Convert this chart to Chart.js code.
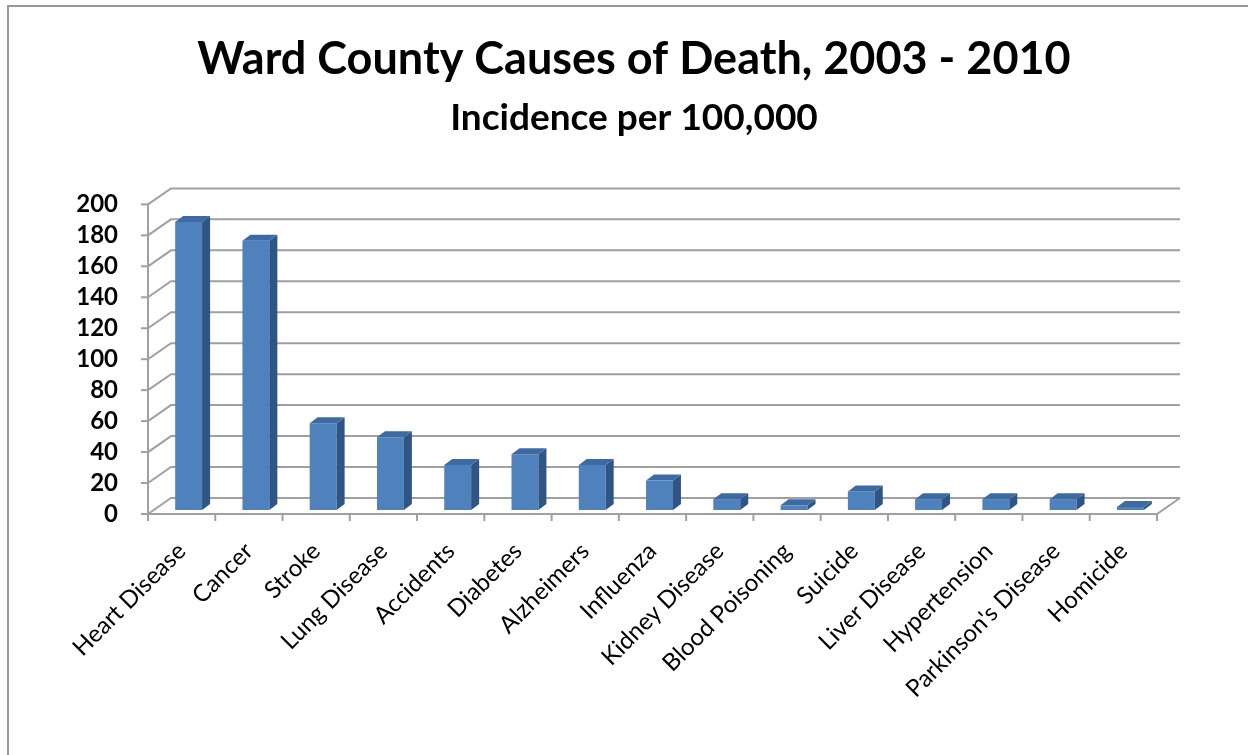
<!DOCTYPE html>
<html>
<head>
<meta charset="utf-8">
<title>Ward County Causes of Death</title>
<script src="https://cdn.jsdelivr.net/npm/chart.js@4.4.0/dist/chart.umd.min.js"></script>
<style>
  html, body { margin: 0; padding: 0; background: #fff; }
  #wrap { width: 1248px; height: 755px; position: relative; }
</style>
</head>
<body>
<div id="wrap"><canvas id="chart"></canvas></div>
<script>
// Chart data
const causes = [
  'Heart Disease', 'Cancer', 'Stroke', 'Lung Disease', 'Accidents',
  'Diabetes', 'Alzheimers', 'Influenza', 'Kidney Disease', 'Blood Poisoning',
  'Suicide', 'Liver Disease', 'Hypertension', "Parkinson's Disease", 'Homicide'
];
const incidence = [186, 174, 56, 47, 29, 36, 29, 19, 7, 3, 12, 7, 7, 7, 2];
const yTicks = { min: 0, max: 200, step: 20 };

// 3D look (pixel offsets)
const WALL = { dx: 23, dy: -16 };     // back wall vs front axis
const SHIFT = { dx: 7, dy: -4 };      // bar front face vs front axis
const BAR_DEPTH = { dx: 8, dy: -6 };  // bar side / top depth
const GRID_COLOR = '#a0a0a0';

// Draws walls, floor and the extra bar faces
const fake3d = {
  id: 'fake3d',
  beforeDraw(chart) {
    const ctx = chart.ctx;
    ctx.save();
    ctx.strokeStyle = '#999';
    ctx.lineWidth = 2;
    ctx.strokeRect(8, 6, 1400, 900);
    ctx.restore();
  },
  beforeDatasetsDraw(chart) {
    const { ctx, chartArea: a, scales: { x, y } } = chart;
    ctx.save();
    ctx.strokeStyle = GRID_COLOR;
    ctx.lineWidth = 2;
    // back wall gridlines plus left wall diagonals
    y.ticks.forEach(t => {
      const py = y.getPixelForValue(t.value);
      ctx.beginPath();
      ctx.moveTo(a.left, py);
      ctx.lineTo(a.left + WALL.dx, py + WALL.dy);
      ctx.lineTo(a.right + WALL.dx, py + WALL.dy);
      ctx.stroke();
      // tick mark
      ctx.beginPath();
      ctx.moveTo(a.left - 7, py);
      ctx.lineTo(a.left, py);
      ctx.stroke();
    });
    const y0 = y.getPixelForValue(0);
    // front vertical axis
    ctx.beginPath();
    ctx.moveTo(a.left, y.getPixelForValue(yTicks.max));
    ctx.lineTo(a.left, y0);
    ctx.stroke();
    // floor front edge + right edge
    ctx.beginPath();
    ctx.moveTo(a.left, y0);
    ctx.lineTo(a.right, y0);
    ctx.lineTo(a.right + WALL.dx, y0 + WALL.dy);
    ctx.stroke();
    // category boundary ticks
    for (let i = 0; i <= causes.length; i++) {
      const px = x.getPixelForValue(i - 0.5);
      ctx.beginPath();
      ctx.moveTo(px, y0);
      ctx.lineTo(px, y0 + 7);
      ctx.stroke();
    }
    ctx.restore();

    // bars are drawn shifted into the box
    ctx.save();
    ctx.translate(SHIFT.dx, SHIFT.dy);
  },
  afterDatasetsDraw(chart) {
    const ctx = chart.ctx;
    const meta = chart.getDatasetMeta(0);
    meta.data.forEach(bar => {
      const { x, y, base, width } = bar.getProps(['x', 'y', 'base', 'width'], true);
      const l = x - width / 2, r = x + width / 2;
      // side face
      ctx.fillStyle = '#2f5584';
      ctx.beginPath();
      ctx.moveTo(r, y);
      ctx.lineTo(r + BAR_DEPTH.dx, y + BAR_DEPTH.dy);
      ctx.lineTo(r + BAR_DEPTH.dx, base + BAR_DEPTH.dy);
      ctx.lineTo(r, base);
      ctx.closePath();
      ctx.fill();
      // top face
      ctx.fillStyle = '#3d6aa3';
      ctx.beginPath();
      ctx.moveTo(l, y);
      ctx.lineTo(l + BAR_DEPTH.dx, y + BAR_DEPTH.dy);
      ctx.lineTo(r + BAR_DEPTH.dx, y + BAR_DEPTH.dy);
      ctx.lineTo(r, y);
      ctx.closePath();
      ctx.fill();
    });
    ctx.restore();
  }
};

new Chart(document.getElementById('chart'), {
  type: 'bar',
  data: {
    labels: causes,
    datasets: [{
      data: incidence,
      backgroundColor: '#4f81bd',
      borderWidth: 0,
      barPercentage: 0.4,
      categoryPercentage: 1.0,
      clip: false
    }]
  },
  options: {
    responsive: true,
    maintainAspectRatio: false,
    animation: false,
    layout: { padding: { left: 40, right: 20, top: 0, bottom: 0 } },
    plugins: {
      legend: { display: false },
      tooltip: { enabled: false },
      title: {
        display: true,
        text: 'Ward County Causes of Death, 2003 - 2010',
        color: '#000',
        font: { family: 'Lato', size: 45, weight: 'bold' },
        padding: { top: 32, bottom: 10 }
      },
      subtitle: {
        display: true,
        text: 'Incidence per 100,000',
        color: '#000',
        font: { family: 'Lato', size: 37, weight: 'bold' },
        padding: { top: 0, bottom: 64 }
      }
    },
    scales: {
      x: {
        grid: { display: false },
        border: { display: false },
        ticks: {
          autoSkip: false,
          maxRotation: 45,
          minRotation: 45,
          padding: 15,
          color: '#000',
          font: { family: 'Lato', size: 24 }
        },
        afterFit(scale) { scale.height = 241; }
      },
      y: {
        min: yTicks.min,
        max: yTicks.max,
        grid: { display: false },
        border: { display: false },
        ticks: {
          stepSize: yTicks.step,
          autoSkip: false,
          padding: 22,
          color: '#000',
          font: { family: 'Lato', size: 24, weight: 'bold' }
        },
        afterFit(scale) { scale.width = 108; }
      },
      // empty right-hand axis: keeps the plot area off the right edge
      yRight: {
        position: 'right',
        grid: { display: false },
        border: { display: false },
        ticks: { display: false },
        afterFit(scale) { scale.width = 71; }
      }
    }
  },
  plugins: [fake3d]
});
</script>
</body>
</html>
